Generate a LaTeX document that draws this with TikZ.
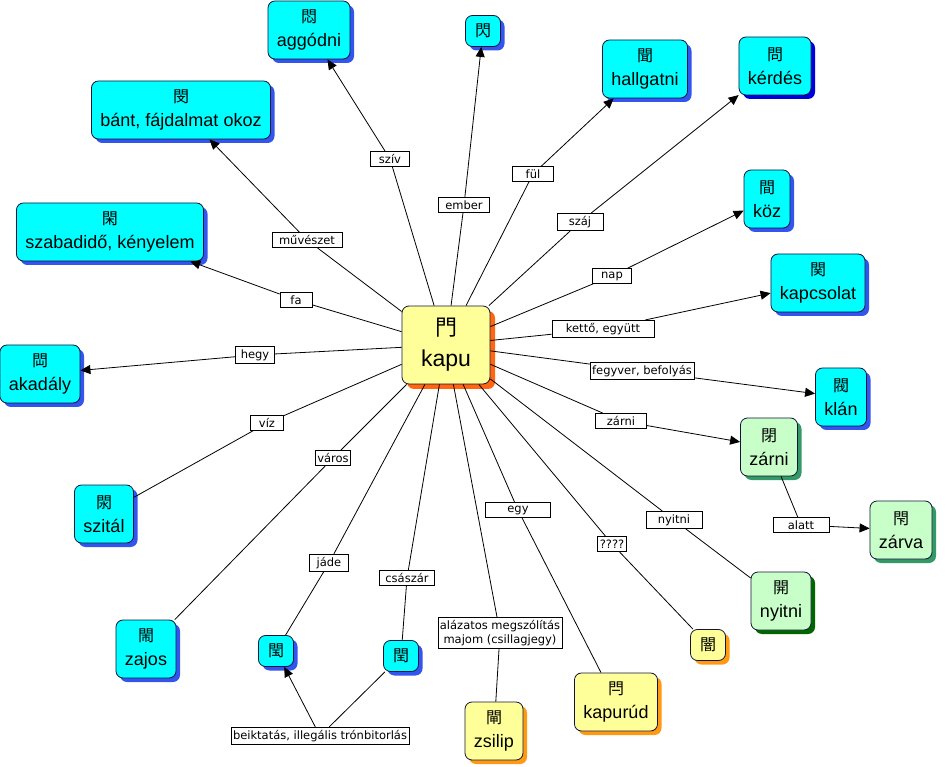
\documentclass[tikz,border=0pt]{standalone}
\usepackage{fontspec}
\setmainfont{Liberation Sans}
\newfontfamily\cjk{Noto Sans CJK JP}
\newfontfamily\lblfont{DejaVu Sans}
\usepackage{tikz}
\usetikzlibrary{arrows.meta,shadows}

\definecolor{cyanfill}{HTML}{00FFFF}
\definecolor{cyanshade}{HTML}{3355EE}
\definecolor{deepshade}{HTML}{0000DD}
\definecolor{yellowfill}{HTML}{FFFF99}
\definecolor{yellowshade}{HTML}{FF9911}
\definecolor{kapushade}{HTML}{FF6611}
\definecolor{greenfill}{HTML}{C8FFC8}
\definecolor{greenshade}{HTML}{339966}
\definecolor{darkgreenshade}{HTML}{006600}
\definecolor{boxline}{HTML}{14143C}

\newcommand{\kj}[1]{{\cjk\fontsize{16}{16}\selectfont #1}}

\tikzset{
  concept/.style={draw=boxline, line width=0.8pt, rounded corners=7pt, align=center,
    inner xsep=9pt, inner ysep=4pt, minimum height=58pt,
    font=\fontsize{18}{24}\selectfont},
  single/.style={minimum height=31pt, minimum width=35pt, inner sep=2pt},
  bluebox/.style={concept, fill=cyanfill, general shadow={fill=cyanshade, shadow xshift=4pt, shadow yshift=-4pt}},
  deepbox/.style={concept, fill=cyanfill, general shadow={fill=deepshade, shadow xshift=4pt, shadow yshift=-4pt}},
  yellowbox/.style={concept, fill=yellowfill, general shadow={fill=yellowshade, shadow xshift=4pt, shadow yshift=-4pt}},
  greenbox/.style={concept, fill=greenfill, general shadow={fill=greenshade, shadow xshift=4pt, shadow yshift=-4pt}},
  darkgreenbox/.style={concept, fill=greenfill, general shadow={fill=darkgreenshade, shadow xshift=4pt, shadow yshift=-4pt}},
  kapubox/.style={concept, fill=yellowfill, minimum width=88pt, minimum height=78pt,
    font=\fontsize{23}{31}\selectfont,
    general shadow={fill=kapushade, shadow xshift=5pt, shadow yshift=-5pt}},
  lbl/.style={draw, fill=white, line width=0.6pt, inner xsep=2pt, inner ysep=3pt, align=center,
    font=\lblfont\fontsize{11.5}{14}\selectfont},
  link/.style={line width=0.8pt},
  arr/.style={link, -{Triangle[length=10pt,width=9pt]}},
}

\begin{document}
\begin{tikzpicture}[x=1pt, y=-1pt]
\useasboundingbox (0,0) rectangle (946,767);

% centre
\node[kapubox] (kapu) at (446,345) {{\cjk\fontsize{22}{22}\selectfont 門}\\kapu};

% kanji nodes
\node[bluebox] (aggodni) at (309,30) {\kj{悶}\\aggódni};
\node[bluebox, single] (villan) at (483,31) {\kj{閃}};
\node[bluebox] (hallgat) at (645,69) {\kj{聞}\\hallgatni};
\node[deepbox] (kerdes) at (775,66) {\kj{問}\\kérdés};
\node[bluebox] (koz) at (767,199) {\kj{間}\\köz};
\node[bluebox] (kapcs) at (818,283) {\kj{関}\\kapcsolat};
\node[bluebox] (klan) at (841,397) {\kj{閥}\\klán};
\node[greenbox] (zarni) at (769,447) {\kj{閉}\\zárni};
\node[greenbox] (zarva) at (901,530) {\kj{閇}\\zárva};
\node[darkgreenbox] (nyitni) at (781,601) {\kj{開}\\nyitni};
\node[yellowbox, single] (sotet) at (708,645) {\kj{闇}};
\node[yellowbox] (kapurud) at (616,702) {\kj{閂}\\kapurúd};
\node[yellowbox] (zsilip) at (494,731) {\kj{閘}\\zsilip};
\node[bluebox, single] (csaszar) at (401,656) {\kj{閏}};
\node[bluebox, single] (jade) at (276,651) {\kj{閠}};
\node[bluebox] (zajos) at (146,649) {\kj{閙}\\zajos};
\node[bluebox] (szital) at (104,514) {\kj{閖}\\szitál};
\node[bluebox] (akadaly) at (40,374) {\kj{閊}\\akadály};
\node[bluebox] (szabad) at (110,232) {\kj{閑}\\szabadidő, kényelem};
\node[bluebox] (bant) at (181,110) {\kj{閔}\\bánt, fájdalmat okoz};

% labels
\node[lbl, minimum width=39pt] (lSziv) at (390,159) {szív};
\node[lbl, minimum width=51pt] (lEmber) at (464,205) {ember};
\node[lbl, minimum width=41pt] (lFul) at (533,174) {fül};
\node[lbl, minimum width=46pt] (lSzaj) at (580,222) {száj};
\node[lbl, minimum width=70pt] (lMuveszet) at (307,240) {művészet};
\node[lbl, minimum width=39pt] (lNap) at (612,276) {nap};
\node[lbl, minimum width=102pt] (lKetto) at (603,329) {kettő, együtt};
\node[lbl] (lFegyver) at (642,371) {fegyver, befolyás};
\node[lbl, minimum width=51pt] (lZarni) at (621,421) {zárni};
\node[lbl, minimum width=56pt] (lNyitni) at (674,520) {nyitni};
\node[lbl, minimum width=56pt] (lAlatt) at (801,525) {alatt};
\node[lbl] (lKerdo) at (612,544) {????};
\node[lbl, minimum width=65pt] (lEgy) at (518,510) {egy};
\node[lbl] (lAlazat) at (500,633) {alázatos megszólítás\\majom (csillagjegy)};
\node[lbl, minimum width=55pt] (lCsaszar) at (407,578) {császár};
\node[lbl, minimum width=39pt] (lJade) at (329,563) {jáde};
\node[lbl, minimum width=35pt] (lVaros) at (333,458) {város};
\node[lbl, minimum width=33pt] (lViz) at (267,423) {víz};
\node[lbl, minimum width=39pt] (lHegy) at (255,355) {hegy};
\node[lbl, minimum width=32pt] (lFa) at (296,300) {fa};
\node[lbl] (lBeikt) at (320,736) {beiktatás, illegális trónbitorlás};

% connectors
\draw[link] (kapu) -- (lSziv);
\draw[arr] (lSziv) -- (aggodni);
\draw[link] (kapu) -- (lEmber);
\draw[arr] (lEmber) -- (villan);
\draw[link] (kapu) -- (lFul);
\draw[arr] (lFul) -- (hallgat);
\draw[link] (kapu) -- (lSzaj);
\draw[arr] (lSzaj) -- (kerdes);
\draw[link] (kapu) -- (lNap);
\draw[arr] (lNap) -- (koz);
\draw[link] (kapu) -- (lKetto);
\draw[arr] (lKetto) -- (kapcs);
\draw[link] (kapu) -- (lFegyver);
\draw[arr] (lFegyver) -- (klan);
\draw[link] (kapu) -- (lZarni);
\draw[arr] (lZarni) -- (zarni);
\draw[link] (zarni) -- (lAlatt);
\draw[arr] (lAlatt) -- (zarva);
\draw[link] (kapu) -- (lNyitni) -- (nyitni);
\draw[link] (kapu) -- (lKerdo) -- (sotet);
\draw[link] (kapu) -- (lEgy) -- (kapurud);
\draw[link] (kapu) -- (lAlazat) -- (zsilip);
\draw[link] (kapu) -- (lCsaszar) -- (csaszar);
\draw[link] (kapu) -- (lJade) -- (jade);
\draw[link] (kapu) -- (lVaros) -- (zajos);
\draw[link] (kapu) -- (lViz) -- (szital);
\draw[link] (kapu) -- (lHegy);
\draw[arr] (lHegy) -- (akadaly);
\draw[link] (kapu) -- (lFa);
\draw[arr] (lFa) -- (szabad);
\draw[link] (kapu) -- (lMuveszet);
\draw[arr] (lMuveszet) -- (bant);
\draw[link] (csaszar) -- (lBeikt);
\draw[arr] (lBeikt) -- (jade);

\end{tikzpicture}
\end{document}
